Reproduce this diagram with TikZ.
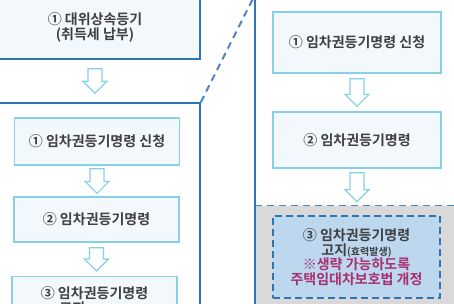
\documentclass[tikz,border=0pt]{standalone}
\usepackage{fontspec}
\setmainfont{Noto Sans CJK KR}[BoldFont={Noto Sans CJK KR Bold}]
\usetikzlibrary{calc, positioning}

\definecolor{frameblue}{HTML}{2E75B6}
\definecolor{zoomblue}{HTML}{4A86C8}
\definecolor{boxline}{HTML}{86D0EA}
\definecolor{boxfill}{HTML}{F3F8FC}
\definecolor{txtgray}{HTML}{404040}
\definecolor{notepink}{HTML}{A8306F}
\definecolor{shadegray}{HTML}{D9D9D9}
\definecolor{notefill}{HTML}{BDD7EE}

\tikzset{
  frame/.style={draw=frameblue, line width=1.6pt, inner sep=0pt},
  stepbox/.style={draw=boxline, line width=1.3pt, fill=boxfill, inner sep=0pt,
    align=center, text=txtgray, font=\fontsize{14}{15}\selectfont\bfseries},
  notebox/.style={draw=frameblue, line width=1.6pt, dash pattern=on 7pt off 4pt,
    fill=notefill, inner sep=0pt, align=center, text=txtgray,
    font=\fontsize{14}{14.5}\selectfont\bfseries},
  flowarrow/.style={draw=boxline, line width=1.2pt, fill=white, line join=miter},
  zoomline/.style={draw=zoomblue, line width=2pt, dash pattern=on 7pt off 5pt}
}

% hollow down arrow between two nodes, #3 = gap
\newcommand{\flowarrow}[3]{%
  \draw[flowarrow] let \p1=(#1.south), \p2=(#2.north) in
    (\x1-7pt,\y1-#3pt) -- (\x1+7pt,\y1-#3pt) -- (\x1+7pt,\y2+#3pt+12pt)
    -- (\x1+12pt,\y2+#3pt+12pt) -- (\x1,\y2+#3pt) -- (\x1-12pt,\y2+#3pt+12pt)
    -- (\x1-7pt,\y2+#3pt+12pt) -- cycle;}

\begin{document}
\begin{tikzpicture}[x=1pt, y=-1pt]
\useasboundingbox (0,0) rectangle (454,303);
\clip (0,0) rectangle (454,303);

% left side
\node[frame, fill=boxfill, minimum width=210pt, minimum height=63pt, align=center,
  text=txtgray, font=\fontsize{14}{15}\selectfont\bfseries]
  (inherit) at (95,27.5) {① 대위상속등기\\(취득세 납부)};
\node[frame, fill=white, minimum width=210pt, minimum height=227pt] (zoomleft) at (95,216.5) {};
\node[stepbox, minimum width=165pt, minimum height=47pt] (applyL) at (97,141.5) {① 임차권등기명령 신청};
\node[stepbox, minimum width=165pt, minimum height=45pt] (orderL) at (96.5,219.5) {② 임차권등기명령};
\node[stepbox, minimum width=165pt, minimum height=48pt, anchor=north] (noticeL) at (94.5,276)
  {③ 임차권등기명령\\고지{\fontsize{10}{10}\selectfont(효력발생)}};

\flowarrow{inherit}{zoomleft}{9}
\flowarrow{applyL}{orderL}{3}
\flowarrow{orderL}{noticeL}{5}

% right side
\node[inner sep=0pt, fill=shadegray, minimum width=210pt, minimum height=124pt] (shade) at (360,268) {};
\draw[zoomline, line width=1.3pt] (shade.north west) -- (shade.north east);
\node[frame, minimum width=210pt, minimum height=333pt] (zoomright) at (360,163.5) {};
\node[stepbox, minimum width=168pt, minimum height=61pt] (applyR) at (357,42.5) {① 임차권등기명령 신청};
\node[stepbox, minimum width=168pt, minimum height=56pt] (orderR) at (357,140) {② 임차권등기명령};
\node[notebox, minimum width=167pt, minimum height=82pt] (noticeR) at (356.5,257)
  {③ 임차권등기명령\\고지{\fontsize{10}{10}\selectfont(효력발생)}\\
   \textcolor{notepink}{※생략 가능하도록}\\\textcolor{notepink}{주택임대차보호법 개정}};

\flowarrow{applyR}{orderR}{5}
\flowarrow{orderR}{shade}{4}

% zoom connector
\draw[zoomline] (zoomleft.north east) -- (zoomright.north west);
\end{tikzpicture}
\end{document}
